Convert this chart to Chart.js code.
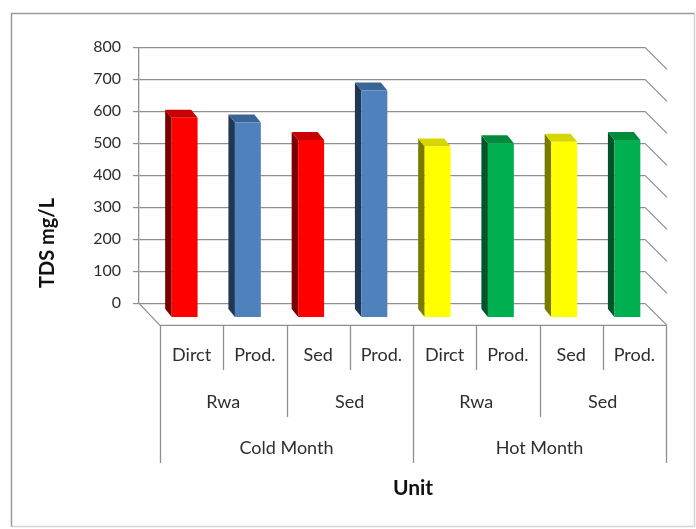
<!DOCTYPE html>
<html>
<head>
<meta charset="utf-8">
<script src="https://cdn.jsdelivr.net/npm/chart.js@4.4.1/dist/chart.umd.min.js"></script>
<style>
  html, body { margin: 0; padding: 0; background: #fff; }
  canvas { display: block; }
</style>
</head>
<body>
<canvas id="chart" width="696" height="529"></canvas>
<script>
// Category hierarchy, innermost first
const units = ['Dirct', 'Prod.', 'Sed', 'Prod.', 'Dirct', 'Prod.', 'Sed', 'Prod.'];
const stages = ['Rwa', 'Sed', 'Rwa', 'Sed'];
const months = ['Cold Month', 'Hot Month'];

// TDS (mg/L) for each unit
const tdsValues = [625, 610, 555, 710, 535, 545, 550, 555];

// Value axis
const yMin = 0;
const yMax = 800;
const yStep = 100;

// Face colours per bar: front, side, top
const frontColors = ['#ff0000', '#4f81bd', '#ff0000', '#4f81bd', '#ffff00', '#00b050', '#ffff00', '#00b050'];
const sideColors  = ['#7a0000', '#1f3654', '#7a0000', '#1f3654', '#7a7a00', '#00542a', '#7a7a00', '#00542a'];
const topColors   = ['#c80000', '#3a6496', '#c80000', '#3a6496', '#d6d600', '#008c3c', '#d6d600', '#008c3c'];

// Oblique projection: back wall -> front edge of the floor, and the bar block itself
const FLOOR = { dx: 21, dy: 22 };
const BAR_FRONT = { dx: 14, dy: 14.4 };
const BAR_DEPTH = { dx: 6.5, dy: 8 };

const LINE = '#8f8f8f';
const TEXT = '#2e2e2e';

const threeD = {
  id: 'threeD',
  beforeDraw(chart) {
    const ctx = chart.ctx;
    ctx.save();
    ctx.fillStyle = '#ffffff';
    ctx.fillRect(0, 0, chart.width, chart.height);
    // outer frame
    ctx.lineWidth = 1.5;
    ctx.strokeStyle = '#d4d4d4';
    ctx.beginPath();
    ctx.moveTo(694.5, 13.5); ctx.lineTo(694.5, 526.5); ctx.lineTo(11.5, 526.5);
    ctx.stroke();
    ctx.strokeStyle = '#9a9a9a';
    ctx.beginPath();
    ctx.moveTo(11.5, 526.5); ctx.lineTo(11.5, 13.5); ctx.lineTo(694.5, 13.5);
    ctx.stroke();
    ctx.restore();
  },
  beforeDatasetsDraw(chart) {
    const ctx = chart.ctx;
    const area = chart.chartArea;
    const y = chart.scales.y;
    ctx.save();
    ctx.strokeStyle = LINE;
    ctx.lineWidth = 1.2;
    // side-wall diagonals at every gridline
    for (let v = yMin; v <= yMax; v += yStep) {
      const py = y.getPixelForValue(v);
      ctx.beginPath();
      ctx.moveTo(area.right, py);
      ctx.lineTo(area.right + FLOOR.dx + 1, py + FLOOR.dy);
      ctx.stroke();
    }
    // floor outline
    const by = y.getPixelForValue(yMin);
    ctx.beginPath();
    ctx.moveTo(area.left, by);
    ctx.lineTo(area.left + FLOOR.dx, by + FLOOR.dy);
    ctx.lineTo(area.right + FLOOR.dx + 1, by + FLOOR.dy);
    ctx.stroke();

    // side and top faces of each bar
    const meta = chart.getDatasetMeta(0);
    meta.data.forEach((bar, i) => {
      const p = bar.getProps(['x', 'y', 'base', 'width'], true);
      const L = p.x - p.width / 2 + BAR_FRONT.dx;
      const R = p.x + p.width / 2 + BAR_FRONT.dx;
      const T = p.y + BAR_FRONT.dy;
      const B = p.base + BAR_FRONT.dy;
      ctx.fillStyle = sideColors[i];
      ctx.beginPath();
      ctx.moveTo(L, T);
      ctx.lineTo(L - BAR_DEPTH.dx, T - BAR_DEPTH.dy);
      ctx.lineTo(L - BAR_DEPTH.dx, B - BAR_DEPTH.dy);
      ctx.lineTo(L, B);
      ctx.closePath();
      ctx.fill();
      ctx.fillStyle = topColors[i];
      ctx.beginPath();
      ctx.moveTo(L, T);
      ctx.lineTo(R, T);
      ctx.lineTo(R - BAR_DEPTH.dx, T - BAR_DEPTH.dy);
      ctx.lineTo(L - BAR_DEPTH.dx, T - BAR_DEPTH.dy);
      ctx.closePath();
      ctx.fill();
    });
    ctx.restore();
    // front faces are drawn by Chart.js, shifted forward in depth
    ctx.save();
    ctx.translate(BAR_FRONT.dx, BAR_FRONT.dy);
  },
  afterDatasetsDraw(chart) {
    chart.ctx.restore();
  },
  afterDraw(chart) {
    const ctx = chart.ctx;
    const area = chart.chartArea;
    const y = chart.scales.y;
    const n = units.length;
    const slot = (area.right - area.left) / n;
    const x0 = area.left + FLOOR.dx;
    const top = y.getPixelForValue(yMin) + FLOOR.dy;
    const leafBottom = 370, stageBottom = 417, monthBottom = 463;
    const perStage = n / stages.length;
    const perMonth = n / months.length;

    ctx.save();
    ctx.strokeStyle = LINE;
    ctx.lineWidth = 1.3;
    for (let k = 0; k <= n; k++) {
      let bottom = leafBottom;
      if (k % perMonth === 0) bottom = monthBottom;
      else if (k % perStage === 0) bottom = stageBottom;
      const px = Math.round(x0 + k * slot) + 0.5;
      ctx.beginPath();
      ctx.moveTo(px, top);
      ctx.lineTo(px, bottom);
      ctx.stroke();
    }

    ctx.fillStyle = TEXT;
    ctx.textAlign = 'center';
    ctx.textBaseline = 'middle';
    ctx.font = '18px Lato';
    units.forEach((t, i) => ctx.fillText(t, x0 + (i + 0.5) * slot, 355));
    stages.forEach((t, i) => ctx.fillText(t, x0 + (i + 0.5) * perStage * slot, 402));
    months.forEach((t, i) => ctx.fillText(t, x0 + (i + 0.5) * perMonth * slot, 448));

    // axis titles
    ctx.fillStyle = '#111111';
    ctx.font = 'bold 21px Lato';
    ctx.fillText('Unit', x0 + n * slot / 2, 488);
    ctx.font = 'bold 20px Lato';
    ctx.translate(48, 243);
    ctx.rotate(-Math.PI / 2);
    ctx.fillText('TDS mg/L', 0, 0);
    ctx.restore();
  }
};

new Chart(document.getElementById('chart'), {
  type: 'bar',
  data: {
    labels: units,
    datasets: [{
      label: 'TDS mg/L',
      data: tdsValues,
      backgroundColor: frontColors,
      borderWidth: 0,
      categoryPercentage: 1,
      barPercentage: 0.41,
      clip: false
    }]
  },
  options: {
    responsive: false,
    animation: false,
    devicePixelRatio: 1,
    layout: { padding: { left: 0, top: 47.3, right: 51, bottom: 225.7 } },
    plugins: { legend: { display: false }, tooltip: { enabled: false } },
    scales: {
      x: { display: false },
      y: {
        min: yMin,
        max: yMax,
        afterFit(scale) { scale.width = 139; },
        ticks: {
          stepSize: yStep,
          padding: 12,
          color: TEXT,
          font: { family: 'Lato', size: 16 }
        },
        grid: { color: LINE, lineWidth: 1.2, tickLength: 6, drawTicks: true },
        border: { display: true, color: LINE, width: 1.3 }
      }
    }
  },
  plugins: [threeD]
});
</script>
</body>
</html>
